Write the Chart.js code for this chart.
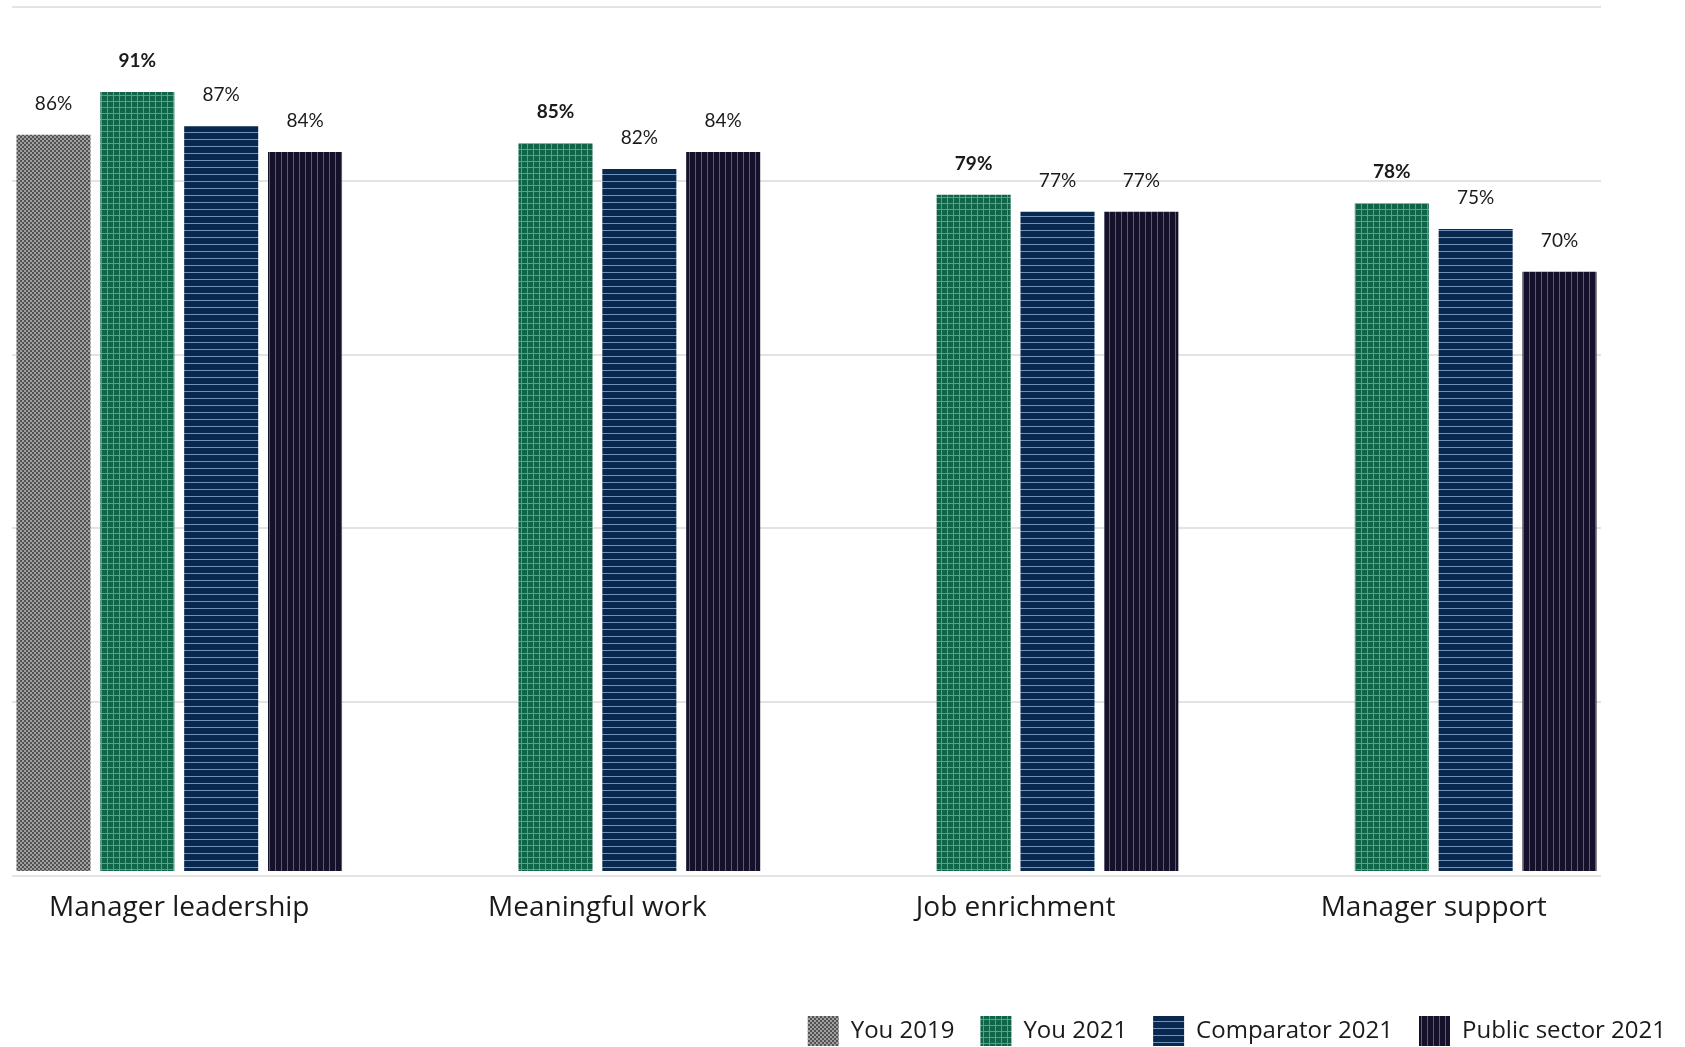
<!DOCTYPE html>
<html>
<head>
<meta charset="utf-8">
<script src="https://cdn.jsdelivr.net/npm/chart.js@4/dist/chart.umd.min.js"></script>
<style>
  html, body { margin: 0; padding: 0; background: #ffffff; }
  #wrap { width: 1685px; height: 1047px; position: relative; }
</style>
</head>
<body>
<div id="wrap"><canvas id="c" width="1685" height="1047"></canvas></div>
<script>
const categories = ["Manager leadership", "Meaningful work", "Job enrichment", "Manager support"];
const seriesNames = ["You 2019", "You 2021", "Comparator 2021", "Public sector 2021"];
const you2019 = [86, null, null, null];
const you2021 = [91, 85, 79, 78];
const comparator2021 = [87, 82, 77, 75];
const publicSector2021 = [84, 84, 77, 70];

const FONT = "'Open Sans', Lato, sans-serif";
const LABEL_FONT = "Lato, 'Open Sans', sans-serif";

function makePattern(kind) {
  const c = document.createElement('canvas');
  const ctx = c.getContext('2d');
  if (kind === 'checker') {
    c.width = 4; c.height = 4;
    ctx.fillStyle = '#a0a0a0'; ctx.fillRect(0, 0, 4, 4);
    ctx.fillStyle = '#525252'; ctx.fillRect(0, 0, 2, 2); ctx.fillRect(2, 2, 2, 2);
  } else if (kind === 'grid') {
    c.width = 6; c.height = 6;
    ctx.fillStyle = '#0f6548'; ctx.fillRect(0, 0, 6, 6);
    ctx.fillStyle = '#5f9e85'; ctx.fillRect(5, 0, 1, 6); ctx.fillRect(0, 5, 6, 1);
  } else if (kind === 'hlines') {
    c.width = 7; c.height = 7;
    ctx.fillStyle = '#08284f'; ctx.fillRect(0, 0, 7, 7);
    ctx.fillStyle = '#6f92bb'; ctx.fillRect(0, 6, 7, 1);
  } else if (kind === 'vlines') {
    c.width = 6; c.height = 6;
    ctx.fillStyle = '#16112a'; ctx.fillRect(0, 0, 6, 6);
    ctx.fillStyle = '#5e5a7c'; ctx.fillRect(5, 0, 1, 6);
  }
  return c.getContext('2d').createPattern(c, 'repeat');
}

const patterns = [makePattern('checker'), makePattern('grid'), makePattern('hlines'), makePattern('vlines')];
const seriesValues = [you2019, you2021, comparator2021, publicSector2021];
const boldSeries = [false, true, false, false];

const datasets = seriesNames.map((name, s) => ({
  label: name,
  data: categories.map((cat, i) => ({ x: i, y: seriesValues[s][i] })),
  backgroundColor: patterns[s],
  borderWidth: 0,
  categoryPercentage: 0.802,
  barPercentage: 0.883,
  bold: boldSeries[s]
}));

const valueLabels = {
  id: 'valueLabels',
  afterDatasetsDraw(chart) {
    const ctx = chart.ctx;
    ctx.save();
    ctx.textAlign = 'center';
    ctx.textBaseline = 'middle';
    ctx.fillStyle = '#1a1a1a';
    chart.data.datasets.forEach((ds, di) => {
      const meta = chart.getDatasetMeta(di);
      meta.data.forEach((bar, i) => {
        const v = ds.data[i].y;
        if (v === null || v === undefined) return;
        ctx.font = (ds.bold ? '700 ' : '400 ') + '19px ' + LABEL_FONT;
        ctx.fillText(v + '%', bar.x, bar.y - 31);
      });
    });
    ctx.restore();
  }
};

const Y_MIN = -0.58, Y_MAX = 100.93;

new Chart(document.getElementById('c'), {
  type: 'bar',
  data: { datasets },
  plugins: [valueLabels],
  options: {
    responsive: false,
    animation: false,
    devicePixelRatio: 1,
    parsing: { xAxisKey: 'x', yAxisKey: 'y' },
    layout: { padding: { left: 0, right: -7, top: 7, bottom: -9 } },
    plugins: {
      legend: {
        position: 'bottom',
        align: 'end',
        labels: {
          boxWidth: 31,
          boxHeight: 30,
          padding: 26,
          color: '#1a1a1a',
          font: { family: FONT, size: 24 }
        }
      },
      tooltip: { enabled: false }
    },
    scales: {
      x: {
        type: 'linear',
        min: -0.4,
        max: 3.4,
        offset: false,
        grid: { display: false },
        border: { display: false },
        afterBuildTicks(scale) { scale.ticks = categories.map((c, i) => ({ value: i })); },
        afterFit(scale) { scale.height = 114; },
        ticks: {
          autoSkip: false,
          maxRotation: 0,
          padding: 7,
          color: '#1a1a1a',
          font: { family: FONT, size: 28 },
          callback: (v) => categories[v]
        }
      },
      y: {
        position: 'left',
        min: Y_MIN,
        max: Y_MAX,
        afterBuildTicks(scale) {
          const t = [];
          for (let k = 0; k <= 5; k++) t.push({ value: Y_MIN + k * (Y_MAX - Y_MIN) / 5 });
          scale.ticks = t;
        },
        afterFit(scale) { scale.width = 12; },
        grid: { color: '#e3e3e3', lineWidth: 2, drawTicks: false },
        border: { display: false },
        ticks: { display: false }
      },
      yRight: {
        position: 'right',
        min: Y_MIN,
        max: Y_MAX,
        afterFit(scale) { scale.width = 91; },
        grid: { display: false, drawTicks: false },
        border: { display: false },
        ticks: { display: false }
      }
    }
  }
});
</script>
</body>
</html>
